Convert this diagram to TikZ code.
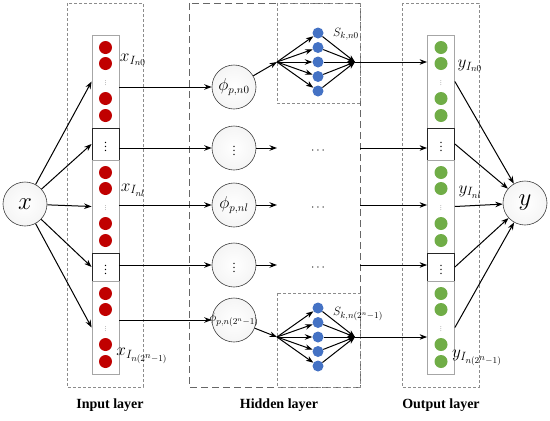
\documentclass[tikz,border=0pt]{standalone}
\usepackage{fontspec}
\setmainfont{Liberation Serif}
\usetikzlibrary{arrows.meta}

\definecolor{inred}{RGB}{192,0,0}
\definecolor{hidblue}{RGB}{68,114,196}
\definecolor{outgreen}{RGB}{112,173,71}

\begin{document}
\begin{tikzpicture}[x=1pt,y=-1pt,->,>={Stealth[length=7.5pt,width=5.5pt]},
    wire/.style={->,line width=1pt},
    var node/.style={circle,draw=black!75,line width=0.6pt,inner color=white,outer color=black!4,minimum size=44pt,inner sep=0pt},
    seg/.style={rectangle,draw=black!35,line width=0.8pt,fill=white,minimum width=27pt,inner sep=0pt},
    gap seg/.style={seg,draw=black!85,font=\fontsize{12}{12}\selectfont},
    unit/.style={circle,inner sep=0pt,minimum size=13pt},
    small dots/.style={inner sep=0pt,font=\fontsize{10}{10}\selectfont},
    layer box/.style={-,draw=black!45,dash pattern=on 3pt off 2pt,line width=0.6pt},
    hidden box/.style={-,draw=black!60,dash pattern=on 7pt off 4pt,line width=0.9pt},
    title/.style={font=\fontsize{14}{16}\selectfont\bfseries},
    lab/.style={font=\fontsize{18}{18}\selectfont}]

  \useasboundingbox (0,0) rectangle (550,421);

  % layer frames
  \draw[layer box] (67,3) rectangle (143,387);
  \draw[hidden box] (189,3) rectangle (360,387);
  \draw[layer box] (277,3) rectangle (360,103);
  \draw[layer box] (277,293) rectangle (360,387);
  \draw[layer box] (402,3) rectangle (479,387);

  % input column
  \node[seg,minimum height=93pt] (in1) at (105.5,81.5) {};
  \node[gap seg,minimum height=32pt] (in2) at (105.5,144) {$\vdots$};
  \node[seg,minimum height=93pt] (in3) at (105.5,206.5) {};
  \node[gap seg,minimum height=28pt] (in4) at (105.5,267) {$\vdots$};
  \node[seg,minimum height=93pt] (in5) at (105.5,327.5) {};

  % output column
  \node[seg,minimum height=93pt] (out1) at (441,81.5) {};
  \node[gap seg,minimum height=32pt] (out2) at (441,144) {$\vdots$};
  \node[seg,minimum height=93pt] (out3) at (441,206.5) {};
  \node[gap seg,minimum height=28pt] (out4) at (441,267) {$\vdots$};
  \node[seg,minimum height=93pt] (out5) at (441,327.5) {};

  \foreach \s in {1,3,5}{
    \foreach \d [count=\k] in {-34,-18,17,34}{
      \node[unit,fill=inred] (in\s-\k) at ([shift={(0,\d)}]in\s.center) {};
      \node[unit,fill=outgreen] (out\s-\k) at ([shift={(0,\d)}]out\s.center) {};
    }
    \node[small dots] (in\s-dots) at (in\s) {\scalebox{0.5}{$\vdots$}};
    \node[small dots] (out\s-dots) at (out\s) {\scalebox{0.5}{$\vdots$}};
  }

  % x and y
  \node[var node,font=\fontsize{32}{32}\selectfont] (x) at (25,204) {$x$};
  \node[var node,font=\fontsize{32}{32}\selectfont] (y) at (525,203) {$y$};

  % hidden units
  \node[var node,font=\fontsize{16}{16}\selectfont] (phi1) at (234,87) {$\phi_{p,n0}$};
  \node[var node,font=\fontsize{12}{12}\selectfont] (phi2) at (234,148) {$\vdots$};
  \node[var node,font=\fontsize{16}{16}\selectfont] (phi3) at (234,205) {$\phi_{p,nl}$};
  \node[var node,font=\fontsize{12}{12}\selectfont] (phi4) at (234,265) {$\vdots$};
  \node[var node] (phi5) at (234,320) {};
  \node[font=\fontsize{13}{13}\selectfont] (phi5-lab) at (phi5) {$\phi_{p,n(2^n-1)}$};

  \coordinate (f1) at (277,62);
  \coordinate (m1) at (355,62);
  \coordinate (f5) at (277,337);
  \coordinate (m5) at (355,337);
  \coordinate (hr) at (360,0);

  \foreach \n in {1,5}{
    \foreach \k in {1,...,5}{
      \node[unit,fill=hidblue,minimum size=11pt] (s\n-\k) at ([shift={(41,{14.5*(\k-3)})}]f\n) {};
      \draw[wire] (f\n) -- (s\n-\k);
      \draw[wire] (s\n-\k) -- (m\n);
    }
  }
  \node[font=\fontsize{13}{13}\selectfont] (s1-lab) at (346,34) {$S_{k,n0}$};
  \node[font=\fontsize{13}{13}\selectfont] (s5-lab) at (358,314) {$S_{k,n(2^n-1)}$};

  \foreach \i in {2,3,4}
    \node[font=\fontsize{12}{12}\selectfont] (dots\i) at ([shift={(84,3)}]phi\i) {$\cdots$};

  % labels
  \node[lab] (xl1) at (133,60) {$x_{I_{n0}}$};
  \node[lab] (xl3) at (133,190) {$x_{I_{nl}}$};
  \node[lab] (xl5) at (142,356) {$x_{I_{n(2^n-1)}}$};
  \node[lab] (yl1) at (470,66) {$y_{I_{n0}}$};
  \node[lab] (yl3) at (470,192) {$y_{I_{nl}}$};
  \node[lab] (yl5) at (477,358) {$y_{I_{n(2^n-1)}}$};

  \node[title] (tin) at (110,405) {Input layer};
  \node[title] (thid) at (279,405) {Hidden layer};
  \node[title] (tout) at (441,405) {Output layer};

  % connections
  \foreach \i in {1,...,5}{
    \draw[wire] (x) -- (in\i.west);
    \draw[wire] (in\i.east |- phi\i) -- (phi\i);
    \draw[wire] (out\i.east) -- (y);
  }
  \draw[wire] (phi1) -- (f1);
  \draw[wire] (phi5) -- (f5);
  \foreach \i in {2,3,4}{
    \draw[wire] (phi\i) -- (f1 |- phi\i);
    \draw[wire] (hr |- phi\i) -- (out\i.west |- phi\i);
  }
  \draw[wire] (m1) -- (out1.west |- m1);
  \draw[wire] (m5) -- (out5.west |- m5);

\end{tikzpicture}
\end{document}
